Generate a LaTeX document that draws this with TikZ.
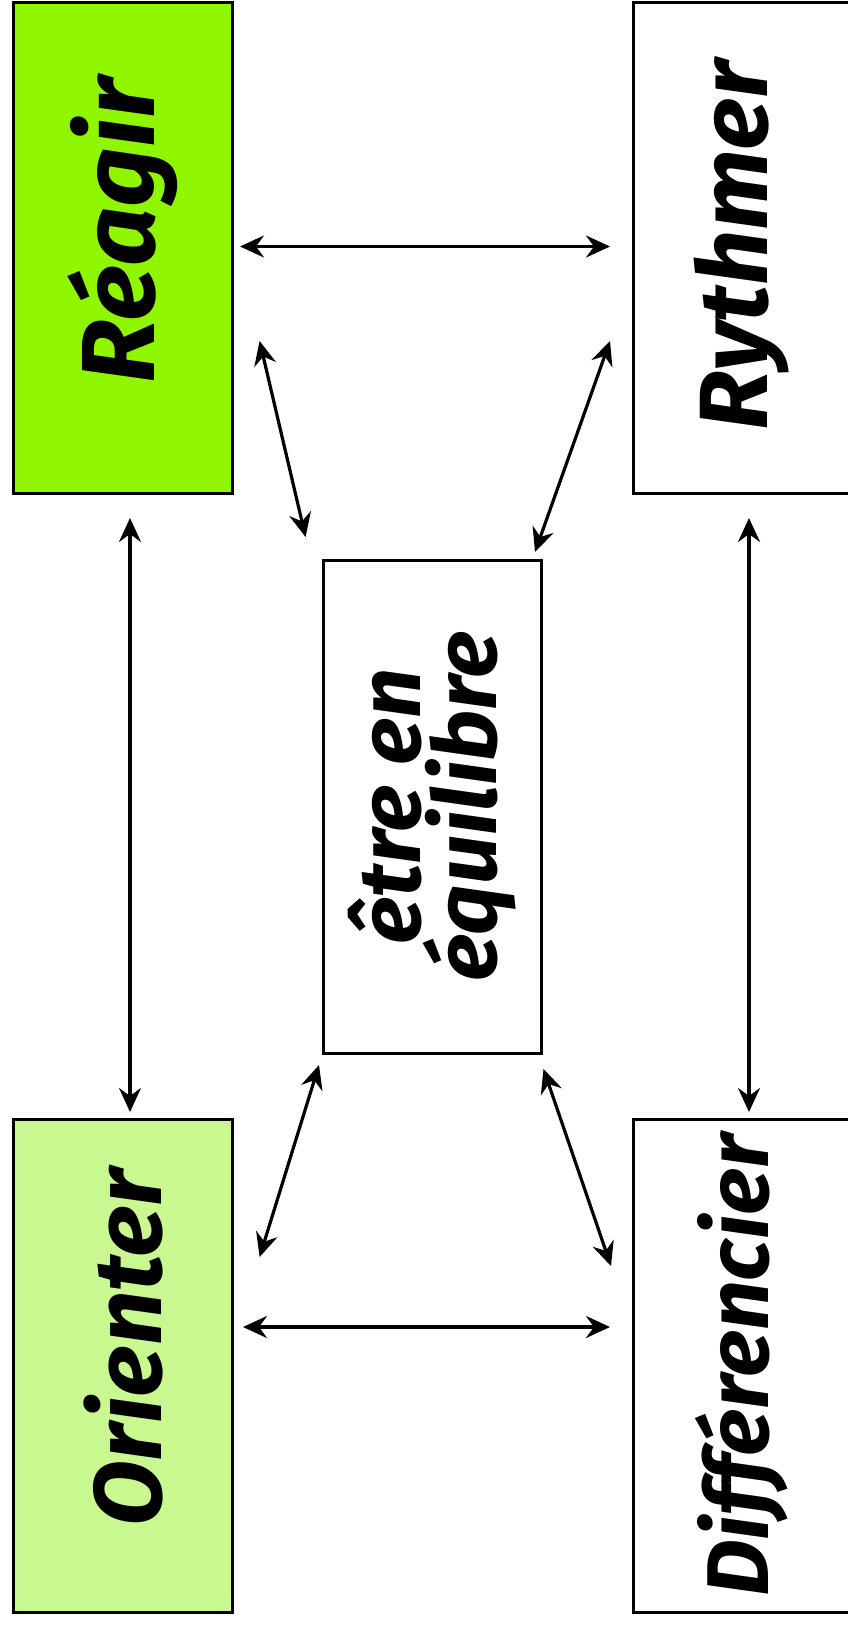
\documentclass[tikz,border=0pt]{standalone}
\usepackage{fontspec}
\setmainfont{Fira Sans}
\usetikzlibrary{arrows.meta,calc}
\definecolor{vif}{RGB}{143,246,0}
\definecolor{pale}{RGB}{200,248,143}
\newcommand{\lbltxt}[3]{\rotatebox{90}{\hspace*{#3}\resizebox{#1}{!}{\bfseries\itshape\fontsize{100}{100}\selectfont #2}}}
\tikzset{
  box/.style={draw=black, line width=3pt, inner sep=0pt, outer sep=0pt, minimum width=219pt, minimum height=491pt},
  arr/.style={line width=3.2pt, {Stealth[length=24pt,width=22pt,inset=8pt]}-{Stealth[length=24pt,width=22pt,inset=8pt]}}
}
\begin{document}
\begin{tikzpicture}[x=1pt,y=-1pt]
\useasboundingbox (0,0) rectangle (848,1625);
\fill[white] (0,0) rectangle (848,1625);
\node[box, fill=vif] (rea) at (123,247.5) {\lbltxt{305pt}{Réagir}{34pt}};
\node[box, minimum width=217pt] (ryt) at (741.5,247.5) {\lbltxt{370pt}{Rythmer}{4pt}};
\node[box, minimum width=218pt, minimum height=493pt] (ctr) at (432,806.5) {\rotatebox{90}{\parbox{420pt}{\centering\bfseries\itshape\fontsize{88}{74}\selectfont être en\\équilibre}}};
\node[box, fill=pale, minimum height=493pt] (ori) at (123,1365.5) {\lbltxt{358pt}{Orienter}{36pt}};
\node[box, minimum width=217pt, minimum height=493pt] (dif) at (741.5,1365.5) {\lbltxt{462pt}{Différencier}{0pt}};
% connector end points
\coordinate (h1a) at ($(rea.east)+(7.5,-1)$);
\coordinate (h1b) at ($(ryt.west)+(-23,-1)$);
\coordinate (h2a) at (243,1327);
\coordinate (h2b) at (610,1327);
\coordinate (v1a) at (130,518);
\coordinate (v1b) at (130,1112);
\coordinate (v2a) at (749,518);
\coordinate (v2b) at (749,1112);
\coordinate (d1a) at (259.6,341);
\coordinate (d1b) at (305.6,537);
\coordinate (d2a) at (610,341);
\coordinate (d2b) at (535,552);
\coordinate (d3a) at (319,1065);
\coordinate (d3b) at (259.6,1257);
\coordinate (d4a) at (543.5,1069);
\coordinate (d4b) at (611,1266);
\draw[arr] (h1a) -- (h1b);
\draw[arr] (h2a) -- (h2b);
\draw[arr] (v1a) -- (v1b);
\draw[arr] (v2a) -- (v2b);
\draw[arr] (d1a) -- (d1b);
\draw[arr] (d2a) -- (d2b);
\draw[arr] (d3a) -- (d3b);
\draw[arr] (d4a) -- (d4b);
\end{tikzpicture}
\end{document}
